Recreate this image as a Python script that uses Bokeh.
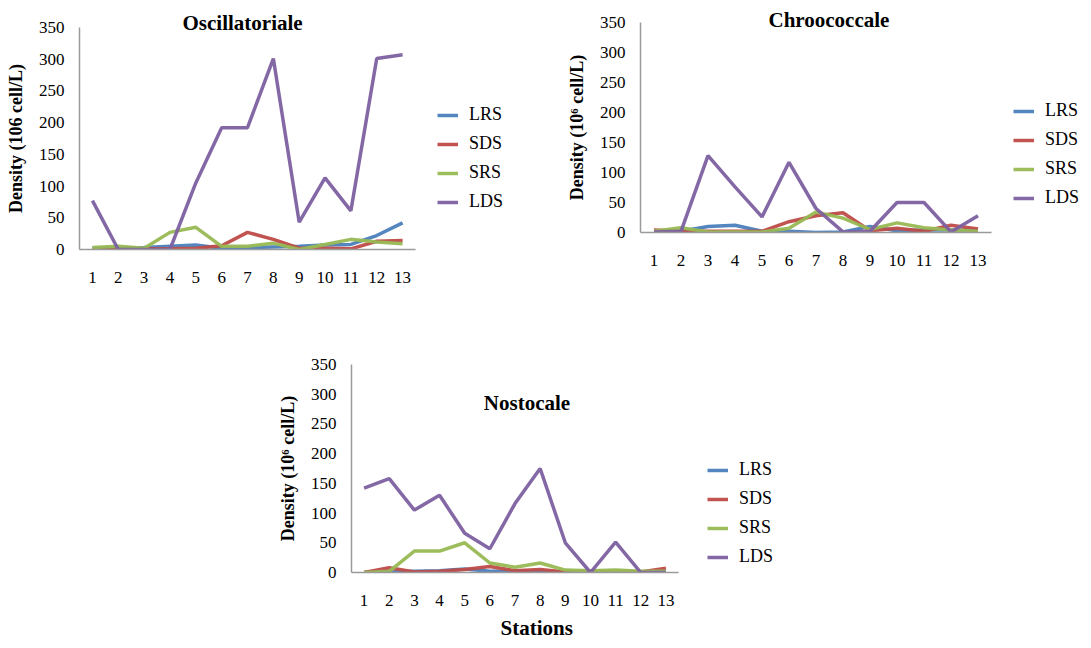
from bokeh.plotting import figure
from bokeh.layouts import column, row
from bokeh.models import Range1d, FixedTicker, Label, Legend, LegendItem, Title
from bokeh.embed import file_html
from bokeh.resources import INLINE

stations = [1, 2, 3, 4, 5, 6, 7, 8, 9, 10, 11, 12, 13]
series_names = ["LRS", "SDS", "SRS", "LDS"]
y_ticks = [0, 50, 100, 150, 200, 250, 300, 350]

osc_lrs = [2, 2, 3, 5, 7, 2, 3, 4, 5, 7, 8, 22, 42]
osc_sds = [0, 0, 1, 1, 2, 6, 27, 16, 2, 2, 1, 13, 14]
osc_srs = [3, 5, 2, 27, 35, 5, 5, 10, 0, 8, 16, 12, 9]
osc_lds = [77, 0, 0, 0, 105, 192, 192, 301, 43, 113, 61, 301, 307]

chr_lrs = [2, 2, 10, 12, 2, 2, 0, 1, 10, 3, 4, 4, 3]
chr_sds = [4, 2, 2, 2, 2, 18, 28, 33, 3, 7, 2, 12, 6]
chr_srs = [2, 8, 1, 1, 1, 7, 34, 24, 5, 16, 8, 4, 2]
chr_lds = [1, 2, 128, 76, 26, 117, 40, 1, 2, 50, 50, 1, 28]

nos_lrs = [0, 1, 2, 3, 6, 2, 2, 2, 1, 1, 1, 1, 2]
nos_sds = [0, 8, 1, 2, 5, 10, 3, 5, 1, 1, 1, 1, 7]
nos_srs = [0, 2, 36, 36, 50, 16, 9, 16, 4, 3, 4, 2, 2]
nos_lds = [142, 158, 105, 130, 66, 40, 116, 175, 50, 0, 51, 0, 0]

colors = ["#4A7EBB", "#BE4B48", "#98B954", "#7D60A0"]
FONT = "Liberation Serif"
X_LO, X_HI, Y_LO, Y_HI = 0.5, 13.5, 0, 350


def styled_title(text, side_offset, standoff):
    return Title(text=text, align="left", offset=side_offset, standoff=standoff,
                 text_font=FONT, text_font_size="21px", text_font_style="bold",
                 text_color="black")


def make_panel(series, ylabel, fig_w, fig_h, frame_left, border_top,
               border_bottom, axis_w_px, legend_loc):
    # frame spans the 0..350 range vertically and is widened to the right so
    # that the legend sits inside it; axis_w_px is the pixel length of 0.5..13.5
    x_end = X_LO + (X_HI - X_LO) * (fig_w - frame_left) / axis_w_px
    p = figure(width=fig_w, height=fig_h, output_backend="svg",
               toolbar_location=None, title=None,
               x_range=Range1d(X_LO, x_end), y_range=Range1d(Y_LO, Y_HI),
               min_border_left=frame_left, min_border_right=0,
               min_border_top=border_top, min_border_bottom=border_bottom)
    p.frame_align = False
    p.outline_line_color = None
    p.xgrid.visible = False
    p.ygrid.visible = False
    p.background_fill_color = None
    p.border_fill_color = None
    items = []
    for name, vals, c in zip(series_names, series, colors):
        r = p.line(stations, vals, line_color=c, line_width=3.5, line_alpha=0.95)
        items.append(LegendItem(label=name, renderers=[r]))
    for ax in (p.xaxis[0], p.yaxis[0]):
        ax.axis_line_color = "#9a9a9a"
        ax.axis_line_width = 1.5
        ax.major_tick_in = 0
        ax.major_tick_out = 0
        ax.minor_tick_in = 0
        ax.minor_tick_out = 0
        ax.major_label_text_font = FONT
        ax.major_label_text_font_size = "17px"
        ax.major_label_text_color = "black"
        ax.axis_label_text_font = FONT
        ax.axis_label_text_font_style = "bold"
        ax.axis_label_text_color = "black"
    p.xaxis.bounds = (X_LO, X_HI)
    p.yaxis.bounds = (Y_LO, Y_HI)
    p.xaxis.ticker = FixedTicker(ticks=stations)
    p.yaxis.ticker = FixedTicker(ticks=y_ticks)
    p.xaxis.major_label_standoff = 22
    p.yaxis.major_label_standoff = 15
    p.yaxis.axis_label = ylabel
    p.yaxis.axis_label_text_font_size = "18px"
    p.yaxis.axis_label_standoff = 10
    leg = Legend(items=items, location=legend_loc, orientation="vertical",
                 padding=0, margin=0, spacing=8, label_height=20,
                 glyph_height=20, glyph_width=21, label_standoff=11,
                 label_text_font=FONT, label_text_font_size="18px",
                 label_text_color="black", border_line_color=None,
                 background_fill_alpha=0)
    p.add_layout(leg)
    return p


p1 = make_panel([osc_lrs, osc_sds, osc_srs, osc_lds], "Density (106 cell/L)",
                552, 292, 79, 27, 43, 336, (358, 37))
p1.add_layout(styled_title("Oscillatoriale", 103, -15), "above")

p2 = make_panel([chr_lrs, chr_sds, chr_srs, chr_lds],
                "Density (10\u2076 cell/L)", 536, 292, 88, 22, 60, 351, (373, 24))
p2.add_layout(styled_title("Chroococcale", 128, -19), "above")

p3 = make_panel([nos_lrs, nos_sds, nos_srs, nos_lds],
                "Density (10\u2076 cell/L)", 840, 355, 351, 72, 75, 327, (356, 5))
p3.add_layout(Label(x=7, y=286, x_offset=12, text="Nostocale",
                    text_font=FONT, text_font_style="bold",
                    text_font_size="21px", text_align="center",
                    text_baseline="middle", text_color="black"))
p3.add_layout(styled_title("Stations", 149, 10), "below")

layout = column(row(p1, p2), p3)
open("out.html", "w").write(file_html(layout, INLINE))
